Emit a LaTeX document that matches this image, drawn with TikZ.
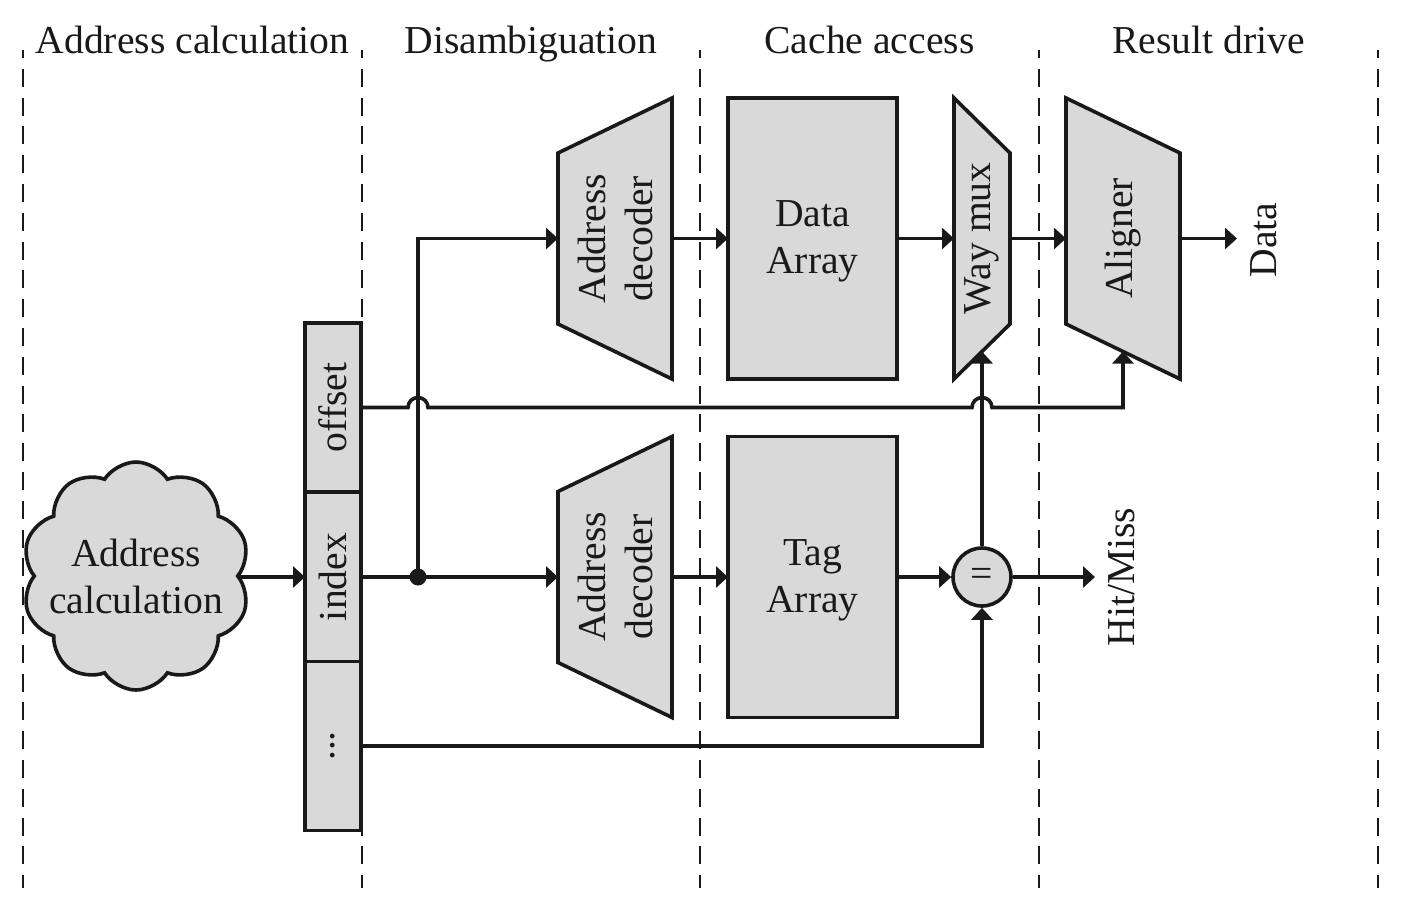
\documentclass[tikz,border=0pt]{standalone}
\usepackage{fontspec}
\setmainfont{Liberation Serif}
\usetikzlibrary{arrows.meta,shapes.symbols,calc}
\definecolor{lc}{gray}{0.1}
\definecolor{gf}{gray}{0.85}
\newcommand\dsize{\fontsize{19.8}{23.5}\selectfont}
\begin{document}
\begin{tikzpicture}[x=0.5pt,y=-0.5pt,font=\dsize,line join=miter,
  blk/.style={draw=lc,fill=gf,line width=1.8pt},
  wire/.style={draw=lc,line width=1.8pt},
  arr/.style={wire,-{Triangle[length=6pt,width=10.5pt]}},
  sepline/.style={draw=lc,line width=1.3pt,dash pattern=on 9pt off 5.4pt,dash phase=5pt},
  hdr/.style={anchor=base,inner sep=0pt,text=lc},
  vtxt/.style={rotate=90,align=center,inner sep=0pt,text=lc},
  ctxt/.style={align=center,inner sep=0pt,text=lc},
  shp/.style={inner sep=0pt,outer sep=0pt}]
\useasboundingbox (0,0) rectangle (1404,902);

% stage separators
\foreach \x/\n in {23/a,362/b,700/c,1039/d,1378/e}{
  \coordinate (t\n) at (\x,50);
  \coordinate (b\n) at (\x,888);
  \draw[sepline] (t\n) -- (b\n);
}

% headers
\node[hdr] (h1) at (192.5,53) {Address calculation};
\node[hdr] (h2) at (531,53) {Disambiguation};
\node[hdr] (h3) at (869.5,53) {Cache access};
\node[hdr] (h4) at (1208.5,53) {Result drive};

% cloud
\node[cloud,cloud puffs=10,cloud puff arc=115,aspect=1,blk,minimum width=114pt,minimum height=114pt,inner sep=0pt] (cloud) at (136,576) {};
\node[ctxt] (cloudt) at (cloud.center) {Address\\calculation};

% register
\node[blk,shp,minimum width=28pt,minimum height=84.5pt] (off) at (333,407.5) {};
\node[vtxt] (offt) at (off) {offset};
\node[blk,shp,minimum width=28pt,minimum height=84.5pt] (idx) at (333,577) {};
\node[vtxt] (idxt) at (idx) {index};
\node[blk,shp,minimum width=28pt,minimum height=84.5pt] (etc) at (333,746) {};
\node[vtxt] (etct) at (etc) {...};

% address decoders
\node[shp,minimum width=57pt,minimum height=140.5pt] (decA) at (615,238.5) {};
\draw[blk] ($(decA.north west)+(0,55)$) -- (decA.north east) -- (decA.south east) -- ($(decA.south west)+(0,-55)$) -- cycle;
\node[vtxt] (decAt) at (decA) {Address\\decoder};
\node[shp,minimum width=57pt,minimum height=140.5pt] (decB) at (615,577) {};
\draw[blk] ($(decB.north west)+(0,55)$) -- (decB.north east) -- (decB.south east) -- ($(decB.south west)+(0,-55)$) -- cycle;
\node[vtxt] (decBt) at (decB) {Address\\decoder};

% arrays
\node[blk,shp,minimum width=84.5pt,minimum height=140.5pt] (darr) at (812.5,238.5) {};
\node[ctxt] (darrt) at ([yshift=-1.5pt]darr.center) {Data\\Array};
\node[blk,shp,minimum width=84.5pt,minimum height=140.5pt] (tarr) at (812.5,577) {};
\node[ctxt] (tarrt) at ([yshift=-1.5pt]tarr.center) {Tag\\Array};

% way mux
\node[shp,minimum width=28pt,minimum height=140.5pt] (wmux) at (982,238.5) {};
\draw[blk] (wmux.north west) -- ($(wmux.north east)+(0,55)$) -- ($(wmux.south east)+(0,-55)$) -- (wmux.south west) -- cycle;
\node[vtxt] (wmuxt) at (wmux) {Way mux};
\coordinate (wmuxin) at ($(wmux.south)+(0,-27.5)$);

% aligner
\node[shp,minimum width=57pt,minimum height=140.5pt] (algn) at (1123,238.5) {};
\draw[blk] (algn.north west) -- ($(algn.north east)+(0,55)$) -- (algn.south east) -- ($(algn.south west)+(0,-55)$) -- cycle;
\node[vtxt] (algnt) at (algn) {Aligner};
\coordinate (algnin) at ($(algn.south)+(0,-27.5)$);

% comparator
\node[blk,circle,minimum size=29pt,inner sep=0pt,text=lc] (cmp) at (982,577) {=};

% outputs
\node[vtxt] (dout) at (1264,240) {Data};
\coordinate (doutin) at (1237,238.5);
\node[vtxt] (hm) at (1122,577) {Hit/Miss};
\coordinate (hmin) at (1095,577);

% connectors
\draw[arr] (cloud.east |- idx.west) -- (idx.west);
\coordinate (br) at (418,577);
\draw[arr] (idx.east) -- (decB.west);
\draw[arr] (br) |- (decA.west);
\fill[lc] (br) circle (4.25pt);
\draw[arr] (off.east) -- ($(br |- off.east)+(-10,0)$) arc[start angle=180,end angle=0,radius=5pt]
  -- ($(cmp.center |- off.east)+(-10,0)$) arc[start angle=180,end angle=0,radius=5pt]
  -- (algnin |- off.east) -- (algnin);
\draw[arr] (etc.east) -| (cmp.south);
\draw[arr] (cmp.north) -- (wmuxin);
\draw[arr] (decA.east) -- (darr.west);
\draw[arr] (darr.east) -- (wmux.west);
\draw[arr] (wmux.east) -- (algn.west);
\draw[arr] (algn.east) -- (doutin);
\draw[arr] (decB.east) -- (tarr.west);
\draw[arr] (tarr.east) -- (cmp.west);
\draw[arr] (cmp.east) -- (hmin);
\end{tikzpicture}
\end{document}
